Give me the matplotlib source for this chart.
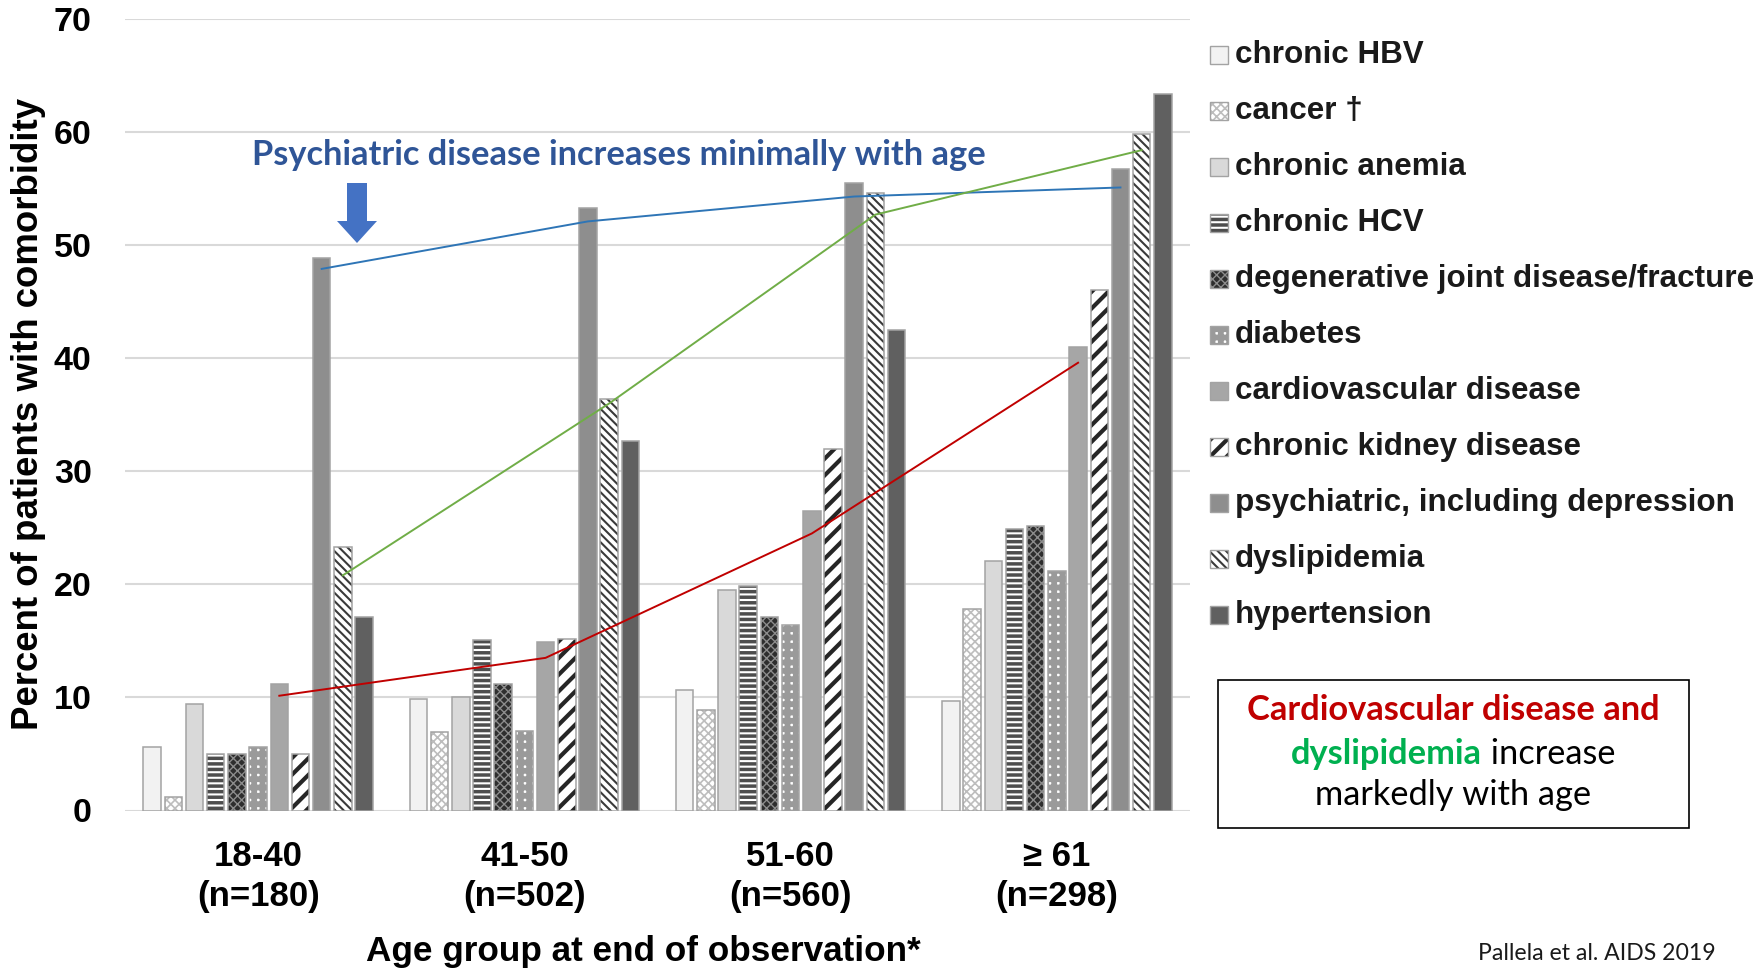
import matplotlib
matplotlib.use('Agg')
import matplotlib.pyplot as plt
from matplotlib.patches import Rectangle, FancyArrow

W, H = 1760, 968

# ---------------- data ----------------
age_groups = ['18-40\n(n=180)', '41-50\n(n=502)', '51-60\n(n=560)', '≥ 61\n(n=298)']
series_names = ['chronic HBV', 'cancer †', 'chronic anemia', 'chronic HCV',
                'degenerative joint disease/fracture', 'diabetes',
                'cardiovascular disease', 'chronic kidney disease',
                'psychiatric, including depression', 'dyslipidemia', 'hypertension']

chronic_hbv = [5.6, 9.85, 10.7, 9.7]
cancer = [1.2, 6.9, 8.9, 17.8]
chronic_anemia = [9.4, 10.0, 19.5, 22.1]
chronic_hcv = [5.0, 15.1, 19.85, 24.9]
degenerative_joint = [5.0, 11.2, 17.1, 25.2]
diabetes = [5.6, 7.0, 16.4, 21.2]
cardiovascular = [11.2, 14.9, 26.5, 41.0]
chronic_kidney = [5.0, 15.2, 32.0, 46.0]
psychiatric = [48.9, 53.3, 55.5, 56.7]
dyslipidemia = [23.3, 36.35, 54.6, 59.8]
hypertension = [17.1, 32.7, 42.5, 63.4]

# trend lines drawn over the bars
psych_trend = [47.9, 52.1, 54.3, 55.1]
dyslip_trend = [20.8, 36.0, 52.7, 58.4]
cvd_trend = [10.15, 13.5, 24.5, 39.6]

y_ticks = [0, 10, 20, 30, 40, 50, 60, 70]

values = [chronic_hbv, cancer, chronic_anemia, chronic_hcv, degenerative_joint,
          diabetes, cardiovascular, chronic_kidney, psychiatric, dyslipidemia,
          hypertension]

# ---------------- styles ----------------
EDGE = '#A3A3A3'
styles = [
    dict(fc='#F2F2F2', hatch=None, hc=None, hlw=1),
    dict(fc='white', hatch='xxxx', hc='#BDBDBD', hlw=1.2),
    dict(fc='#D9D9D9', hatch=None, hc=None, hlw=1),
    dict(fc='white', hatch='---', hc='#4D4D4D', hlw=2.5),
    dict(fc='#2E2E2E', hatch='xxxx', hc='#8C8C8C', hlw=1.0),
    dict(fc='white', hatch='++', hc='#9A9A9A', hlw=4.2),
    dict(fc='#A6A6A6', hatch=None, hc=None, hlw=1),
    dict(fc='white', hatch='//', hc='#262626', hlw=3.0),
    dict(fc='#8E8E8E', hatch=None, hc=None, hlw=1),
    dict(fc='white', hatch='\\\\\\\\', hc='#3A3A3A', hlw=1.5),
    dict(fc='#606060', hatch=None, hc=None, hlw=1),
]

plt.rcParams['font.family'] = ['Liberation Sans', 'DejaVu Sans']

fig = plt.figure(figsize=(W / 100, H / 100), dpi=100)
ax = fig.add_axes([125 / W, (H - 810.5) / H, 1065 / W, 791.5 / H])

n = len(values)
pitch = 0.0796
bw = 0.0657


def style_patch(p, st):
    if st['hatch']:
        p.set_hatch(st['hatch'])
        p.set_edgecolor(st['hc'])
        p.set_linewidth(0)
        if hasattr(p, 'set_hatch_linewidth'):
            p.set_hatch_linewidth(st['hlw'])


group_x = list(range(len(age_groups)))
for i, (vals, st) in enumerate(zip(values, styles)):
    xs = [g + (i - (n - 1) / 2) * pitch for g in group_x]
    bars = ax.bar(xs, vals, width=bw, color=st['fc'], edgecolor=EDGE,
                  linewidth=1.1, zorder=2)
    if st['hatch']:
        for b in bars:
            style_patch(b, st)
        ax.bar(xs, vals, width=bw, fill=False, edgecolor=EDGE, linewidth=1.1, zorder=3)


def series_x(idx):
    return [g + (idx - (n - 1) / 2) * pitch for g in group_x]


ax.plot(series_x(8), psych_trend, color='#2E75B6', lw=1.4, zorder=4)
ax.plot(series_x(9), dyslip_trend, color='#70AD47', lw=1.4, zorder=4)
ax.plot(series_x(6), cvd_trend, color='#C00000', lw=1.4, zorder=4)

ax.set_xlim(-0.5, 3.5)
ax.set_ylim(0, 70)
ax.set_yticks(y_ticks)
ax.set_yticklabels([str(t) for t in y_ticks], fontsize=24.5, fontweight='bold')
ax.set_xticks(group_x)
ax.set_xticklabels(age_groups, fontsize=25, fontweight='bold', linespacing=1.28)
ax.tick_params(axis='both', length=0)
ax.tick_params(axis='y', pad=24)
ax.tick_params(axis='x', pad=21)
ax.grid(axis='y', color='#D9D9D9', lw=1.5, zorder=0)
ax.set_axisbelow(True)
for s in ax.spines.values():
    s.set_visible(False)

renderer = fig.canvas.get_renderer()


def fit(t, target):
    w = t.get_window_extent(renderer).width
    t.set_fontsize(t.get_fontsize() * target / w)


# axis titles
ylab = fig.text(29 / W, 1 - 414 / H, 'Percent of patients with comorbidity',
                rotation=90, ha='center', va='center', fontsize=25, fontweight='bold')
yl_w = ylab.get_window_extent(renderer).height
ylab.set_fontsize(ylab.get_fontsize() * 632 / yl_w)

xlab = fig.text(643.5 / W, (H - 961) / H, 'Age group at end of observation*',
                ha='center', va='baseline', fontsize=25, fontweight='bold')
fit(xlab, 555)

# annotation
ann = fig.text(619 / W, 1 - 155 / H, 'Psychiatric disease increases minimally with age',
               ha='center', va='center', fontsize=28, fontweight='bold',
               color='#2F5597', family=['Lato', 'DejaVu Sans'])
fit(ann, 734)

arrow = FancyArrow(357 / W, 1 - 183 / H, 0, -(243 - 183) / H, width=20 / W,
                   head_width=40 / W, head_length=22 / H, length_includes_head=True,
                   transform=fig.transFigure, color='#4472C4', lw=0)
fig.add_artist(arrow)

# legend (manual)
leg_texts = []
for i, (name, st) in enumerate(zip(series_names, styles)):
    yc = 55 + 56 * i
    r = Rectangle((1210 / W, 1 - (yc + 9) / H), 18 / W, 18 / H, transform=fig.transFigure,
                  facecolor=st['fc'], edgecolor=EDGE, linewidth=1.0)
    style_patch(r, st)
    fig.add_artist(r)
    if st['hatch']:
        fig.add_artist(Rectangle((1210 / W, 1 - (yc + 9) / H), 18 / W, 18 / H,
                                 transform=fig.transFigure, fill=False,
                                 edgecolor=EDGE, linewidth=1.0))
    t = fig.text(1235 / W, 1 - yc / H, name, ha='left', va='center',
                 fontsize=18, fontweight='bold', color='#1A1A1A')
    leg_texts.append(t)
wlong = leg_texts[4].get_window_extent(renderer).width
for t in leg_texts:
    t.set_fontsize(t.get_fontsize() * 519 / wlong)

# box with text
box = Rectangle((1218 / W, 1 - 828 / H), (1689 - 1218) / W, (828 - 680) / H,
                transform=fig.transFigure, fill=False, edgecolor='black', linewidth=1.2)
fig.add_artist(box)
lato = ['Lato', 'DejaVu Sans']
cx = 1453
l1 = fig.text(cx / W, 1 - 710 / H, 'Cardiovascular disease and', ha='center', va='center',
              fontsize=20, fontweight='bold', color='#C00000', family=lato)
fit(l1, 412)
fs = l1.get_fontsize()
l2a = fig.text(0, 1 - 754 / H, 'dyslipidemia', ha='left', va='center', fontsize=fs,
               fontweight='bold', color='#00B050', family=lato)
l2b = fig.text(0, 1 - 754 / H, ' increase', ha='left', va='center', fontsize=fs,
               color='black', family=lato)
wa = l2a.get_window_extent(renderer).width
wb = l2b.get_window_extent(renderer).width
x0 = cx - (wa + wb) / 2
l2a.set_x(x0 / W)
l2b.set_x((x0 + wa) / W)
l3 = fig.text(cx / W, 1 - 795 / H, 'markedly with age', ha='center', va='center',
              fontsize=fs, color='black', family=lato)

src = fig.text(1478 / W, 1 - 954 / H, 'Pallela et al. AIDS 2019', ha='left', va='center',
               fontsize=14, color='#1A1A1A', family=lato)
fit(src, 237)

fig.savefig('out.png', dpi=100)
